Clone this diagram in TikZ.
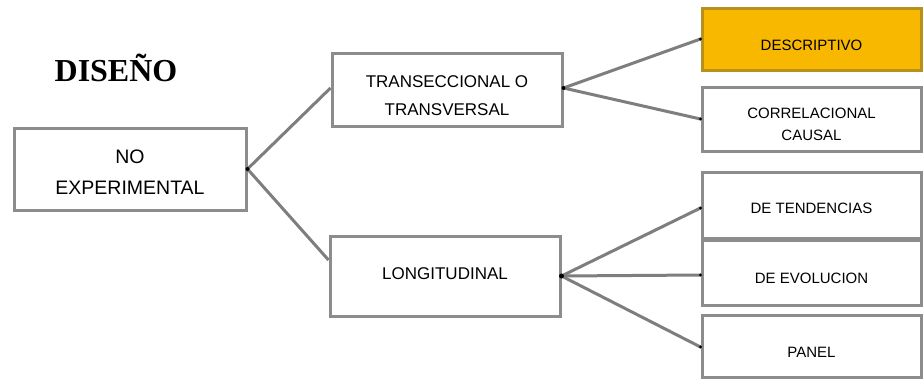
\documentclass[tikz,border=0pt]{standalone}
\usepackage{fontspec}
\setmainfont{Liberation Sans}
\newfontfamily\titlefont{Liberation Serif}
\definecolor{boxgray}{HTML}{8C8C8C}
\definecolor{linegray}{HTML}{7E7E7E}
\definecolor{descfill}{HTML}{F9B800}
\definecolor{descdraw}{HTML}{B8901C}
\begin{document}
\begin{tikzpicture}[x=1pt,y=-1pt,
  box/.style={draw=boxgray, line width=3pt, fill=white, rectangle, inner sep=0pt},
  bigtext/.style={font=\fontsize{19.5}{31}\selectfont, align=center},
  midtext/.style={font=\fontsize{17}{28}\selectfont, align=center},
  smalltext/.style={font=\fontsize{15}{22}\selectfont, align=center},
  conn/.style={draw=linegray, line width=3pt},
  dot/.style={fill=black, draw=none}
]
\useasboundingbox (0,0) rectangle (923,378);
\fill[white] (0,0) rectangle (923,378);

\node[font=\titlefont\bfseries\fontsize{32}{36}\selectfont] (title) at (116,68) {DISEÑO};

\node[box, minimum width=232pt, minimum height=82pt,
  label={[bigtext, yshift=-3pt]center:NO\\EXPERIMENTAL}] (noexp) at (130,169) {};
\node[box, minimum width=230pt, minimum height=73pt,
  label={[midtext, yshift=-6pt]center:TRANSECCIONAL O\\TRANSVERSAL}] (trans) at (447,90) {};
\node[box, minimum width=230pt, minimum height=80pt,
  label={[midtext, yshift=2pt]center:LONGITUDINAL}] (long) at (445,276) {};

\node[box, draw=descdraw, fill=descfill, minimum width=219pt, minimum height=62pt,
  label={[smalltext, yshift=-6pt]center:DESCRIPTIVO}] (desc) at (811.5,39) {};
\node[box, minimum width=219pt, minimum height=64pt,
  label={[smalltext, yshift=-5pt]center:CORRELACIONAL\\CAUSAL}] (corr) at (811.5,119) {};
\node[box, minimum width=219pt, minimum height=66pt,
  label={[smalltext, yshift=-3pt]center:DE TENDENCIAS}] (tend) at (811.5,205) {};
\node[box, minimum width=219pt, minimum height=65pt,
  label={[smalltext, yshift=-5pt]center:DE EVOLUCION}] (evol) at (811.5,273) {};
\node[box, minimum width=219pt, minimum height=62pt,
  label={[smalltext, yshift=-6pt]center:PANEL}] (panel) at (811.5,346) {};

\draw[conn] (noexp.east) -- ([yshift=2pt]trans.west);
\draw[conn] (noexp.east) -- ([yshift=16pt]long.west);
\draw[conn] ([yshift=2pt]trans.east) -- (desc.west);
\draw[conn] ([yshift=2pt]trans.east) -- (corr.west);
\draw[conn] (long.east) -- ([yshift=-3pt]tend.west);
\draw[conn] (long.east) -- ([yshift=-2pt]evol.west);
\draw[conn] (long.east) -- ([yshift=-1pt]panel.west);

\fill[dot] (noexp.east) circle (2pt);
\fill[dot] ([yshift=2pt]trans.east) circle (2pt);
\fill[dot] (long.east) circle (2.5pt);
\fill[dot] (desc.west) circle (1.6pt);
\fill[dot] (corr.west) circle (1.6pt);
\fill[dot] ([yshift=-3pt]tend.west) circle (1.6pt);
\fill[dot] ([yshift=-2pt]evol.west) circle (1.6pt);
\fill[dot] ([yshift=-1pt]panel.west) circle (1.6pt);
\end{tikzpicture}
\end{document}
